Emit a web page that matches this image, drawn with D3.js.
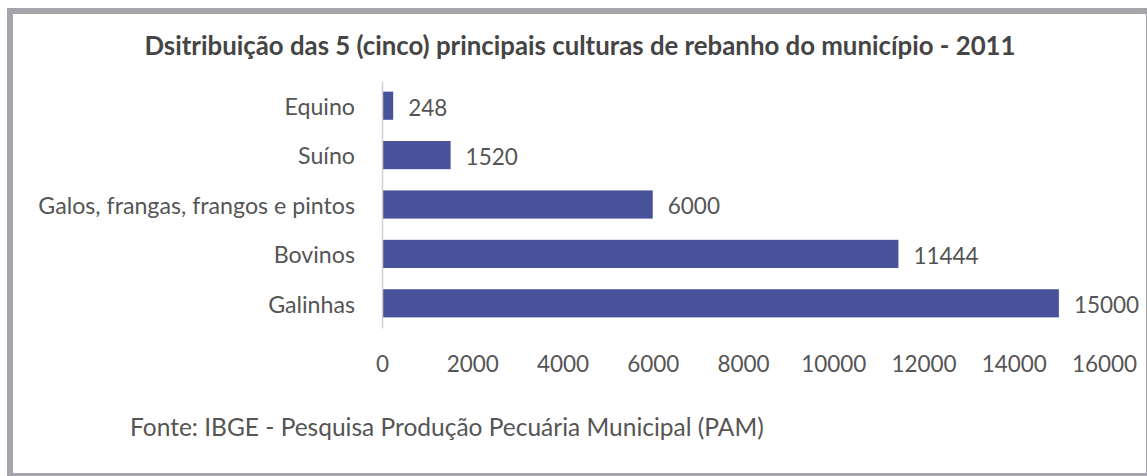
<!DOCTYPE html>
<html>
<head>
<meta charset="utf-8">
<script src="https://cdn.jsdelivr.net/npm/d3@7"></script>
<style>
  body { margin: 0; background: #fff; }
  text { font-family: Lato, "Open Sans", sans-serif; fill: #555; }
</style>
</head>
<body>
<div id="chartContainer"></div>
<script>
// values
var categories = ["Equino", "Suíno", "Galos, frangas, frangos e pintos", "Bovinos", "Galinhas"];
var values = [248, 1520, 6000, 11444, 15000];
var ticks = [0, 2000, 4000, 6000, 8000, 10000, 12000, 14000, 16000];
var title = "Dsitribuição das 5 (cinco) principais culturas de rebanho do município - 2011";
var source = "Fonte: IBGE - Pesquisa Produção Pecuária Municipal (PAM)";

var W = 1147, H = 476;
var svg = d3.select("#chartContainer").append("svg")
  .attr("width", W)
  .attr("height", H);

// grey frame round the chart (right and bottom run off the page)
svg.append("rect")
  .attr("x", 10).attr("y", 11)
  .attr("width", 1139).attr("height", 465)
  .attr("fill", "#fff")
  .attr("stroke", "#a4a4aa")
  .attr("stroke-width", 6);

var data = categories.map(function (c, i) { return { name: c, value: values[i] }; });

var x = d3.scaleLinear().domain([0, 16000]).range([382, 1104]);
var y = d3.scaleBand().domain(categories).range([81, 328]).paddingInner(0.43).paddingOuter(0.215);

svg.append("text")
  .attr("x", 580)
  .attr("y", 55)
  .style("text-anchor", "middle")
  .style("font-size", "25.8px")
  .style("font-weight", "bold")
  .style("fill", "#454545")
  .text(title);

// bars
svg.selectAll("rect.bar")
  .data(data)
  .enter()
  .append("rect")
  .attr("class", "bar")
  .attr("x", x(0))
  .attr("y", function (d) { return y(d.name); })
  .attr("width", function (d) { return x(d.value) - x(0); })
  .attr("height", y.bandwidth())
  .attr("fill", "#48529a");

// value labels
svg.selectAll("text.val")
  .data(data)
  .enter()
  .append("text")
  .attr("class", "val")
  .attr("x", function (d) { return x(d.value) + 15; })
  .attr("y", function (d) { return y(d.name) + y.bandwidth() / 2 + 2; })
  .attr("dy", "0.35em")
  .style("font-size", "22.5px")
  .text(function (d) { return d.value; });

// category axis
var yAxis = svg.append("g")
  .attr("transform", "translate(" + x(0) + ",0)")
  .call(d3.axisLeft(y).tickSize(0).tickPadding(27));
yAxis.select(".domain").attr("stroke", "#d0d0d0").attr("stroke-width", 1.5);
yAxis.selectAll("text")
  .attr("dy", "0.4em")
  .style("font-size", "23.2px")
  .style("fill", "#555");

// value axis, labels only
var xAxis = svg.append("g")
  .attr("transform", "translate(0,353)")
  .call(d3.axisBottom(x).tickValues(ticks).tickSize(0).tickFormat(d3.format("d")));
xAxis.select(".domain").remove();
xAxis.selectAll("text")
  .style("font-size", "22.5px")
  .style("fill", "#555");

svg.append("text")
  .attr("x", 130)
  .attr("y", 436)
  .style("font-size", "24.5px")
  .style("fill", "#555")
  .text(source);
</script>
</body>
</html>
